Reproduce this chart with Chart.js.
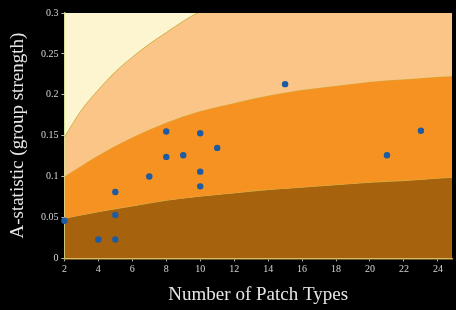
<!DOCTYPE html>
<html>
<head>
<meta charset="utf-8">
<script src="https://cdn.jsdelivr.net/npm/chart.js@4"></script>
<style>
  html, body { margin: 0; padding: 0; background: #000; }
  #wrap { width: 456px; height: 310px; }
</style>
</head>
<body>
<div id="wrap"><canvas id="chart" width="456" height="310"></canvas></div>
<script>
// Band boundaries
const curveX = [2, 4, 6, 8, 10, 12, 14, 16, 18, 20, 22, 24, 24.83];
const lowerCurve = [0.049, 0.057, 0.064, 0.071, 0.076, 0.080, 0.084, 0.087, 0.090, 0.093, 0.095, 0.098, 0.099];
const middleCurve = [0.100, 0.126, 0.148, 0.166, 0.180, 0.190, 0.199, 0.206, 0.211, 0.216, 0.219, 0.222, 0.223];
// upper edge leaves the plot near x = 10, values past that are clipped away
const upperX = [2, 3, 4, 5, 6, 7, 8, 9, 10, 12, 16, 20, 24.83];
const upperCurve = [0.148, 0.181, 0.206, 0.228, 0.246, 0.262, 0.276, 0.290, 0.302, 0.322, 0.35, 0.37, 0.38];

// Observed points
const patchTypes = [2, 4, 5, 5, 5, 7, 8, 8, 9, 10, 10, 10, 11, 15, 21, 23];
const aStat = [0.046, 0.023, 0.023, 0.053, 0.081, 0.100, 0.124, 0.155, 0.126, 0.153, 0.106, 0.088, 0.135, 0.213, 0.126, 0.156];

const xTicks = [2, 4, 6, 8, 10, 12, 14, 16, 18, 20, 22, 24];
const yTicks = [0, 0.05, 0.1, 0.15, 0.2, 0.25, 0.3];

const toPts = (xs, ys) => xs.map((x, i) => ({ x: x, y: ys[i] }));

// paint the top (pale) band as chart area background
const bgPlugin = {
  id: 'bandBg',
  beforeDatasetsDraw(chart) {
    const a = chart.chartArea;
    const ctx = chart.ctx;
    ctx.save();
    ctx.fillStyle = '#fdf5cf';
    ctx.fillRect(a.left, a.top, a.right - a.left, a.bottom - a.top);
    ctx.restore();
  }
};

const edge = '#cdb24a';
const serif = "'Liberation Serif', 'DejaVu Serif', serif";

new Chart(document.getElementById('chart'), {
  type: 'scatter',
  data: {
    datasets: [
      {
        data: toPts(curveX, lowerCurve),
        showLine: true, fill: 'origin',
        backgroundColor: '#a6620c', borderColor: edge, borderWidth: 1,
        pointRadius: 0, cubicInterpolationMode: 'monotone', order: 3
      },
      {
        data: toPts(curveX, middleCurve),
        showLine: true, fill: '-1',
        backgroundColor: '#f59222', borderColor: edge, borderWidth: 1,
        pointRadius: 0, cubicInterpolationMode: 'monotone', order: 2
      },
      {
        data: toPts(upperX, upperCurve),
        showLine: true, fill: '-1',
        backgroundColor: '#fcc588', borderColor: edge, borderWidth: 1,
        pointRadius: 0, cubicInterpolationMode: 'monotone', order: 1
      },
      {
        data: toPts(patchTypes, aStat),
        pointRadius: 3.2, pointBackgroundColor: '#1d5ba3', pointBorderWidth: 0,
        clip: false, order: 0
      }
    ]
  },
  options: {
    responsive: false,
    animation: false,
    events: [],
    layout: { padding: { top: 13, right: 0, left: 0, bottom: 0 } },
    plugins: { legend: { display: false }, tooltip: { enabled: false } },
    scales: {
      x: {
        type: 'linear', min: 2, max: 24.83,
        afterBuildTicks: s => { s.ticks = xTicks.map(v => ({ value: v })); },
        afterFit: s => { s.height = 51.7; },
        border: { color: '#c9a43c', width: 1.5 },
        grid: { drawOnChartArea: false, drawTicks: true, tickLength: 3, color: '#bbbbbb' },
        ticks: { color: '#d6d6d6', font: { family: serif, size: 10 }, padding: 2, maxRotation: 0 },
        title: { display: true, text: 'Number of Patch Types', color: '#e6e6e6', font: { family: serif, size: 19 }, padding: { top: 6, bottom: 3.5 } }
      },
      y: {
        type: 'linear', min: 0, max: 0.3,
        afterBuildTicks: s => { s.ticks = yTicks.map(v => ({ value: v })); },
        afterFit: s => { s.width = 64.4; },
        border: { color: '#9cc243', width: 1.5 },
        grid: { drawOnChartArea: false, drawTicks: true, tickLength: 3, color: '#bbbbbb' },
        ticks: { color: '#d6d6d6', font: { family: serif, size: 10 }, padding: 3, callback: v => String(v) },
        title: { display: true, text: 'A-statistic (group strength)', color: '#e6e6e6', font: { family: serif, size: 19 }, padding: { top: 7, bottom: 0 } }
      }
    }
  },
  plugins: [bgPlugin]
});
</script>
</body>
</html>
